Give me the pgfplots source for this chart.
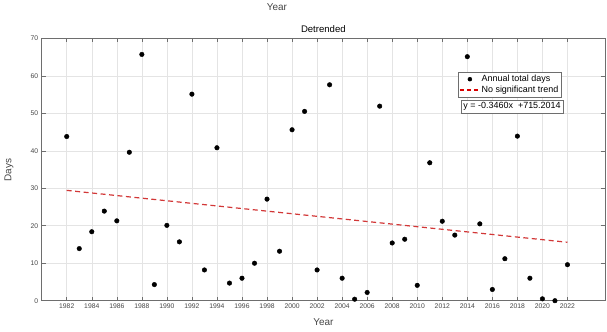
\documentclass[border=0pt]{standalone}
\usepackage{pgfplots}
\pgfplotsset{compat=1.18}
\usepackage{fontspec}
\setmainfont{Liberation Sans}
\definecolor{axgray}{RGB}{110,110,110}
\definecolor{lblgray}{RGB}{70,70,70}
\definecolor{gridgray}{RGB}{228,228,228}
\definecolor{trendred}{RGB}{210,55,55}
\pgfplotstableread{
year days
1982 43.8
1983 13.9
1984 18.4
1985 23.9
1986 21.3
1987 39.6
1988 65.7
1989 4.3
1990 20.1
1991 15.7
1992 55.1
1993 8.2
1994 40.8
1995 4.7
1996 6.0
1997 10.0
1998 27.1
1999 13.2
2000 45.6
2001 50.5
2002 8.2
2003 57.6
2004 6.0
2005 0.4
2006 2.2
2007 51.9
2008 15.4
2009 16.4
2010 4.1
2011 36.8
2012 21.2
2013 17.5
2014 65.1
2015 20.5
2016 3.0
2017 11.2
2018 43.9
2019 6.0
2020 0.5
2021 0.0
2022 9.6
}\datatable
\begin{document}
\begin{tikzpicture}[x=1bp,y=1bp]
\begin{axis}[
  at={(0,0)}, anchor=south west,
  scale only axis, width=563.3bp, height=262.4bp,
  xmin=1980, xmax=2025, ymin=0, ymax=70,
  xtick={1982,1984,...,2022}, ytick={0,10,...,70},
  x tick label style={/pgf/number format/1000 sep={}},
  /pgf/number format/assume math mode=true,
  tick label style={font=\fontsize{6.8}{7}\selectfont, text=lblgray},
  tick align=inside, major tick length=4bp,
  tick style={axgray, line width=0.5bp},
  axis line style={axgray, line width=0.6bp},
  xmajorgrids, ymajorgrids,
  grid style={gridgray, line width=0.5bp},
  legend style={at={(0.739,0.8716)}, anchor=north west,
    font=\fontsize{9}{9}\selectfont, draw=axgray, inner sep=1pt,
    row sep=-1pt, cells={anchor=west}, fill=white},
  clip=false,
]
\addplot[only marks, mark=*, mark size=2.3bp, black,
  legend image code/.code={\draw[black, fill=black] (10bp,0bp) circle (2bp);}]
  table[x=year, y=days] {\datatable};
\addlegendentry{Annual total days}
\addplot[trendred, line width=1.2bp, dash pattern=on 5bp off 3.5bp,
  legend image code/.code={\draw[color=red!85!black, line width=1.4bp, dash pattern=on 4bp off 3bp] (0bp,0bp) -- (19bp,0bp);}]
  coordinates {(1982,29.43) (2022,15.59)};
\addlegendentry{No significant trend}
\node[draw=axgray, fill=white, inner sep=2.2pt, font=\fontsize{9}{10}\selectfont]
  at (rel axis cs:0.835,0.74) {y = -0.3460x\ \ +715.2014};
\node[font=\fontsize{9.6}{10}\selectfont, text=black] at (rel axis cs:0.5,1.035) {Detrended};
\node[font=\fontsize{10}{11}\selectfont, text=lblgray] at (rel axis cs:0.4177,1.12) {Year};
\node[font=\fontsize{10}{11}\selectfont, text=lblgray] at (rel axis cs:0.5,-0.081) {Year};
\node[font=\fontsize{10}{11}\selectfont, text=lblgray, rotate=90] at (rel axis cs:-0.058,0.498) {Days};
\end{axis}
\path[use as bounding box] (-41.7,-30.3) rectangle (565.3,300.7);
\end{tikzpicture}
\end{document}
